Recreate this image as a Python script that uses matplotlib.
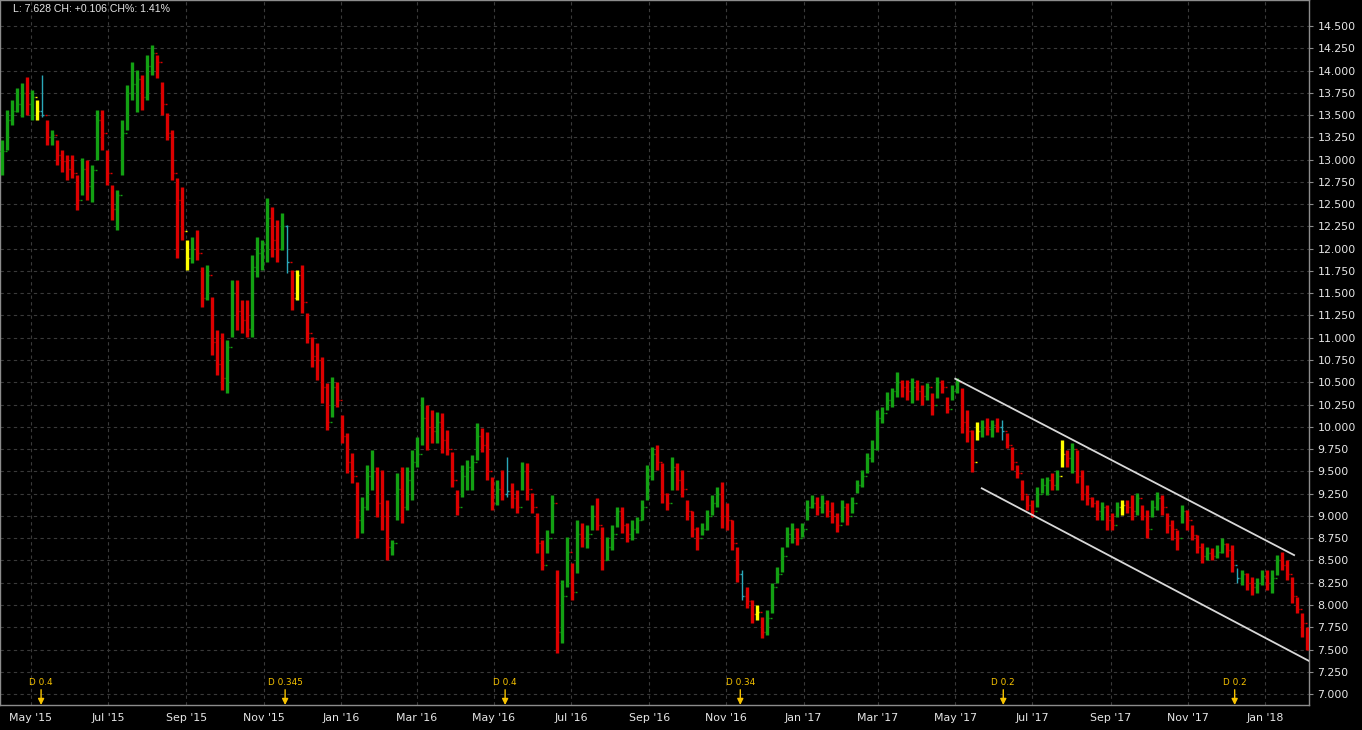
import numpy as np
import pandas as pd
import matplotlib
matplotlib.use('Agg')
import matplotlib.pyplot as plt
import matplotlib.dates as mdates

# price bars (one bar per ~4 calendar days)
high = [13.22, 13.56, 13.67, 13.80, 13.86, 13.93, 13.78, 13.67, 13.95, 13.44,
        13.33, 13.22, 13.11, 13.05, 13.05, 12.83, 13.02, 13.00, 12.94, 13.56,
        13.56, 13.11, 12.72, 12.66, 13.44, 13.84, 14.10, 14.01, 13.95, 14.17,
        14.29, 14.17, 13.87, 13.52, 13.33, 12.79, 12.69, 12.10, 12.13, 12.21,
        11.79, 11.82, 11.46, 11.09, 11.05, 10.97, 11.65, 11.65, 11.42, 11.42,
        11.93, 12.13, 12.10, 12.57, 12.47, 12.32, 12.40, 12.27, 11.76, 11.76,
        11.82, 11.28, 11.01, 10.94, 10.78, 10.49, 10.56, 10.50, 10.13, 9.93,
        9.71, 9.38, 9.21, 9.57, 9.74, 9.55, 9.52, 9.18, 8.73, 9.48,
        9.55, 9.55, 9.74, 9.89, 10.33, 10.24, 10.19, 10.17, 10.16, 9.96,
        9.72, 9.29, 9.57, 9.63, 9.68, 10.04, 9.99, 9.94, 9.44, 9.40,
        9.52, 9.66, 9.37, 9.29, 9.61, 9.59, 9.26, 9.03, 8.73, 8.84,
        9.23, 8.39, 8.28, 8.76, 8.47, 8.95, 8.92, 8.90, 9.12, 9.20,
        8.88, 8.76, 8.90, 9.10, 9.10, 8.92, 8.95, 8.99, 9.18, 9.57,
        9.77, 9.80, 9.59, 9.26, 9.66, 9.59, 9.52, 9.18, 9.05, 8.88,
        8.92, 9.07, 9.23, 9.32, 9.38, 9.14, 8.95, 8.65, 8.39, 8.20,
        8.06, 8.00, 7.86, 7.94, 8.25, 8.43, 8.65, 8.88, 8.92, 8.86,
        8.92, 9.18, 9.23, 9.21, 9.23, 9.18, 9.16, 9.03, 9.18, 9.14,
        9.21, 9.40, 9.52, 9.71, 9.85, 10.19, 10.22, 10.39, 10.44, 10.62,
        10.53, 10.53, 10.55, 10.53, 10.47, 10.49, 10.38, 10.56, 10.53, 10.33,
        10.47, 10.55, 10.44, 10.19, 9.96, 10.05, 10.08, 10.10, 10.08, 10.10,
        10.08, 9.93, 9.77, 9.57, 9.40, 9.23, 9.18, 9.32, 9.43, 9.44,
        9.48, 9.52, 9.85, 9.74, 9.82, 9.74, 9.52, 9.35, 9.21, 9.18,
        9.16, 9.12, 9.03, 9.16, 9.18, 9.18, 9.23, 9.26, 9.12, 9.07,
        9.18, 9.27, 9.23, 9.03, 8.95, 8.84, 9.12, 9.07, 8.90, 8.79,
        8.70, 8.65, 8.64, 8.67, 8.75, 8.70, 8.67, 8.41, 8.39, 8.36,
        8.31, 8.30, 8.39, 8.39, 8.39, 8.56, 8.59, 8.50, 8.31, 8.09,
        7.91, 7.75]

low = [12.83, 13.11, 13.39, 13.53, 13.48, 13.50, 13.44, 13.44, 13.48, 13.16,
       13.16, 12.94, 12.86, 12.77, 12.79, 12.43, 12.60, 12.55, 12.52, 13.00,
       13.11, 12.72, 12.32, 12.21, 12.83, 13.33, 13.67, 13.53, 13.56, 13.67,
       13.95, 13.92, 13.50, 13.22, 12.77, 11.90, 12.10, 11.76, 11.84, 11.87,
       11.35, 11.42, 10.81, 10.58, 10.41, 10.38, 11.01, 11.09, 11.05, 11.01,
       11.01, 11.68, 11.76, 11.85, 11.91, 11.85, 11.99, 11.73, 11.31, 11.42,
       11.28, 10.94, 10.67, 10.53, 10.27, 9.96, 10.11, 10.22, 9.82, 9.48,
       9.37, 8.75, 8.81, 9.07, 9.29, 8.99, 8.84, 8.50, 8.56, 8.95,
       8.92, 9.07, 9.18, 9.55, 9.80, 9.74, 9.82, 9.82, 9.71, 9.68,
       9.32, 9.01, 9.21, 9.29, 9.29, 9.63, 9.72, 9.40, 9.07, 9.12,
       9.18, 9.21, 9.09, 9.03, 9.29, 9.18, 9.03, 8.58, 8.39, 8.58,
       8.81, 7.46, 7.57, 8.20, 8.06, 8.36, 8.65, 8.64, 8.84, 8.84,
       8.39, 8.50, 8.62, 8.88, 8.81, 8.71, 8.73, 8.81, 8.95, 9.18,
       9.40, 9.52, 9.14, 9.07, 9.29, 9.29, 9.21, 8.95, 8.76, 8.62,
       8.79, 8.84, 9.01, 9.10, 8.86, 8.84, 8.62, 8.26, 8.06, 7.97,
       7.80, 7.83, 7.63, 7.66, 7.91, 8.25, 8.37, 8.65, 8.70, 8.67,
       8.76, 8.95, 9.09, 9.01, 9.03, 8.99, 8.92, 8.82, 8.93, 8.90,
       9.03, 9.26, 9.32, 9.48, 9.60, 9.74, 10.04, 10.19, 10.22, 10.33,
       10.33, 10.30, 10.27, 10.30, 10.24, 10.30, 10.13, 10.32, 10.38, 10.15,
       10.30, 10.38, 9.93, 9.83, 9.49, 9.85, 9.89, 9.91, 9.89, 9.94,
       9.85, 9.76, 9.52, 9.43, 9.18, 9.07, 8.99, 9.10, 9.26, 9.23,
       9.29, 9.29, 9.55, 9.55, 9.48, 9.37, 9.18, 9.12, 9.10, 8.95,
       8.95, 8.84, 8.84, 8.99, 9.01, 9.03, 8.95, 9.01, 8.95, 8.75,
       8.99, 9.07, 9.01, 8.81, 8.73, 8.62, 8.92, 8.84, 8.73, 8.58,
       8.47, 8.50, 8.50, 8.53, 8.58, 8.54, 8.37, 8.25, 8.22, 8.17,
       8.11, 8.14, 8.22, 8.17, 8.14, 8.34, 8.39, 8.28, 8.02, 7.91,
       7.64, 7.49]

close = [13.10, 13.45, 13.55, 13.62, 13.75, 13.62, 13.70, 13.55, 13.50, 13.25,
         13.28, 13.05, 12.98, 12.90, 12.85, 12.55, 12.90, 12.70, 12.88, 13.45,
         13.30, 12.85, 12.45, 12.60, 13.30, 13.75, 13.85, 13.90, 13.70, 14.05,
         14.20, 14.10, 13.62, 13.30, 12.85, 12.55, 12.20, 11.90, 12.00, 11.95,
         11.45, 11.70, 10.95, 10.70, 10.55, 10.90, 11.50, 11.30, 11.20, 11.10,
         11.80, 11.95, 12.05, 12.35, 12.10, 12.00, 12.25, 11.85, 11.45, 11.70,
         11.40, 11.05, 10.80, 10.75, 10.45, 10.05, 10.45, 10.30, 9.90, 9.60,
         9.45, 8.95, 9.10, 9.45, 9.50, 9.15, 9.00, 8.65, 8.70, 9.30,
         9.10, 9.40, 9.60, 9.70, 10.10, 10.00, 9.95, 10.05, 9.85, 9.75,
         9.40, 9.10, 9.45, 9.55, 9.60, 9.90, 9.80, 9.50, 9.15, 9.30,
         9.25, 9.28, 9.20, 9.10, 9.50, 9.30, 9.10, 8.70, 8.45, 8.75,
         9.15, 7.70, 8.10, 8.60, 8.15, 8.80, 8.75, 8.80, 9.00, 8.90,
         8.50, 8.65, 8.80, 9.05, 8.90, 8.80, 8.85, 8.95, 9.10, 9.45,
         9.70, 9.60, 9.25, 9.15, 9.55, 9.40, 9.30, 9.05, 8.85, 8.75,
         8.85, 9.00, 9.15, 9.25, 9.00, 8.95, 8.70, 8.35, 8.10, 8.05,
         7.90, 7.92, 7.70, 7.85, 8.20, 8.35, 8.55, 8.80, 8.85, 8.75,
         8.85, 9.10, 9.15, 9.10, 9.15, 9.05, 9.00, 8.90, 9.10, 9.00,
         9.15, 9.35, 9.45, 9.65, 9.75, 10.10, 10.15, 10.30, 10.40, 10.50,
         10.45, 10.40, 10.45, 10.40, 10.35, 10.45, 10.25, 10.50, 10.45, 10.20,
         10.40, 10.50, 10.05, 9.95, 9.60, 9.95, 10.00, 9.98, 10.02, 10.00,
         9.95, 9.80, 9.60, 9.48, 9.25, 9.12, 9.05, 9.25, 9.35, 9.40,
         9.35, 9.45, 9.70, 9.65, 9.75, 9.45, 9.25, 9.20, 9.15, 9.05,
         9.10, 8.95, 8.90, 9.10, 9.12, 9.10, 9.05, 9.20, 9.00, 8.85,
         9.10, 9.20, 9.10, 8.90, 8.85, 8.75, 9.05, 8.95, 8.78, 8.65,
         8.55, 8.58, 8.55, 8.60, 8.68, 8.62, 8.45, 8.30, 8.35, 8.25,
         8.20, 8.25, 8.33, 8.25, 8.30, 8.50, 8.45, 8.35, 8.10, 7.95,
         7.80, 7.628]

# bars with an unchanged-looking print, drawn yellow on the original
flat_bars = [7, 37, 59, 151, 195, 212, 224]

# dividends (ex-date, amount)
div_dates = ['2015-05-09', '2015-11-18', '2016-05-10', '2016-11-12', '2017-06-08', '2017-12-08']
div_amounts = ['0.4', '0.345', '0.4', '0.34', '0.2', '0.2']

# hand-drawn trend channel (date, price)
channel_upper = [('2017-05-01', 10.54), ('2018-01-24', 8.56)]
channel_lower = [('2017-05-22', 9.31), ('2018-02-05', 7.37)]

header = 'L: 7.628 CH: +0.106 CH%: 1.41%'

GREEN = '#13a013'
RED = '#dc0000'
YELLOW = '#ffff00'
CYAN = '#2aa8b8'
GOLD = '#f7c300'

n = len(close)
bar_dates = pd.Timestamp('2015-04-08') + pd.to_timedelta(np.arange(n) * 3.955, unit='D')
xd = mdates.date2num(bar_dates.to_pydatetime())
opens = [close[0]] + close[:-1]

div_x = mdates.date2num(pd.to_datetime(div_dates).to_pydatetime())
div_bar = [int(np.argmin(np.abs(xd - d))) for d in div_x]

colors = []
widths = []
for i in range(n):
    if i in div_bar:
        colors.append(CYAN)
        widths.append(1.0)
        continue
    if i in flat_bars:
        colors.append(YELLOW)
    elif close[i] >= opens[i]:
        colors.append(GREEN)
    else:
        colors.append(RED)
    widths.append(2.4)

fig = plt.figure(figsize=(13.62, 7.30), dpi=100, facecolor='black')
ax = fig.add_axes([0.0, 25 / 730, 1309 / 1362, 705 / 730])
ax.set_facecolor('black')

# OHLC bars
ax.vlines(xd, low, high, colors=colors, linewidths=widths, zorder=3)
tick = 1.7  # days
ax.hlines(opens, xd - tick, xd, colors=colors, linewidth=1.0, zorder=3)
ax.hlines(close, xd, xd + tick, colors=colors, linewidth=1.0, zorder=3)

# trend channel
for seg in (channel_upper, channel_lower):
    sx = mdates.date2num(pd.to_datetime([p[0] for p in seg]).to_pydatetime())
    sy = [p[1] for p in seg]
    ax.plot(sx, sy, color='#d8d8d8', linewidth=1.3, zorder=4)

# dividend markers
for d, amt in zip(div_x, div_amounts):
    ax.annotate('', xy=(d, 0), xycoords=('data', 'axes fraction'),
                xytext=(0, 11), textcoords='offset points',
                arrowprops=dict(arrowstyle='-|>', color=GOLD, lw=1.0,
                                mutation_scale=9, shrinkA=0, shrinkB=0), zorder=5)
    ax.annotate('D ' + amt, xy=(d, 0), xycoords=('data', 'axes fraction'),
                xytext=(0, 16.5), textcoords='offset points',
                ha='center', va='center', color=GOLD, fontsize=6.4, zorder=5)

ax.set_xlim(mdates.date2num(pd.Timestamp('2015-04-06 12:00')),
            mdates.date2num(pd.Timestamp('2018-02-04 19:00')))
ax.set_ylim(6.877, 14.792)

ax.xaxis.set_major_locator(mdates.MonthLocator(bymonth=[1, 3, 5, 7, 9, 11]))
ax.xaxis.set_major_formatter(mdates.DateFormatter("%b '%y"))
ax.yaxis.set_major_locator(plt.FixedLocator(np.arange(7.0, 14.51, 0.25)))
ax.yaxis.set_major_formatter(plt.FormatStrFormatter('%.3f'))
ax.yaxis.tick_right()

ax.tick_params(axis='y', colors='#8c8c8c', labelcolor='#e6e6e6', length=3, pad=3, labelsize=7.9)
ax.tick_params(axis='x', colors='#8c8c8c', labelcolor='#e6e6e6', length=0, pad=6, labelsize=7.9)

ax.grid(True, color='#3a3a3a', linestyle=(0, (3, 3)), linewidth=0.8, zorder=0)
for s in ax.spines.values():
    s.set_color('#8c8c8c')
    s.set_linewidth(1.0)

ax.text(13 / 1309, 1 - 9 / 705, header, transform=ax.transAxes, ha='left', va='center',
        color='#e6e6e6', fontsize=7.6, family='Liberation Sans')

fig.savefig('out.png', dpi=100, facecolor='black')
